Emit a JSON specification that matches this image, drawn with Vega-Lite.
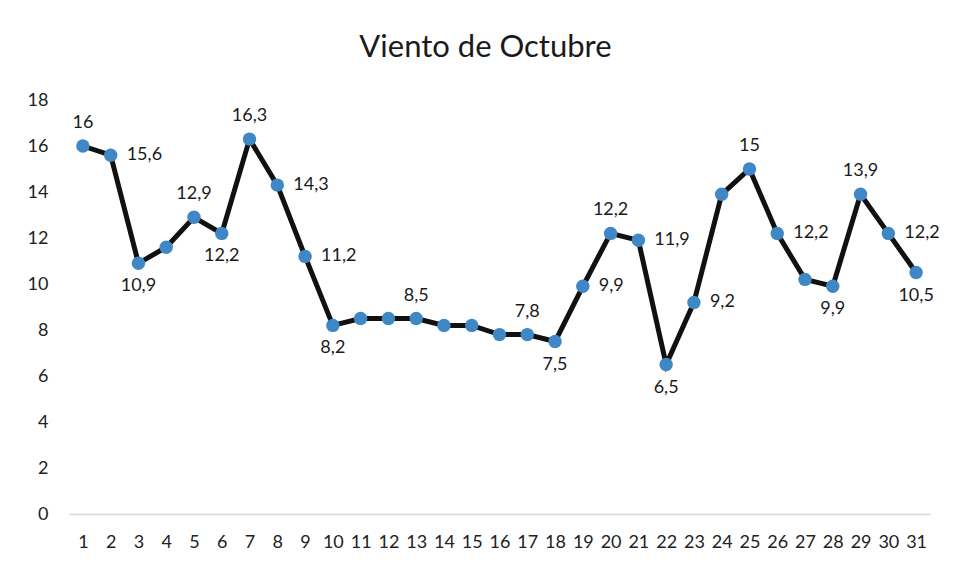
{
  "$schema": "https://vega.github.io/schema/vega-lite/v6.json",
  "width": 861,
  "height": 414,
  "autosize": {"type": "none"},
  "padding": {"left": 69, "top": 100, "right": 23, "bottom": 52},
  "background": "white",
  "config": {
    "view": {"stroke": null},
    "font": "Lato",
    "locale": {"number": {"decimal": ",", "thousands": ".", "grouping": [3], "currency": ["", " €"]}}
  },
  "title": {
    "text": "Viento de Octubre",
    "font": "Lato",
    "fontSize": 31,
    "fontWeight": "normal",
    "color": "#1a1a1a",
    "anchor": "middle",
    "dx": -14,
    "offset": 27
  },
  "data": {
    "values": [
      {"day": 1, "v": 16}, {"day": 2, "v": 15.6}, {"day": 3, "v": 10.9}, {"day": 4, "v": 11.6},
      {"day": 5, "v": 12.9}, {"day": 6, "v": 12.2}, {"day": 7, "v": 16.3}, {"day": 8, "v": 14.3},
      {"day": 9, "v": 11.2}, {"day": 10, "v": 8.2}, {"day": 11, "v": 8.5}, {"day": 12, "v": 8.5},
      {"day": 13, "v": 8.5}, {"day": 14, "v": 8.2}, {"day": 15, "v": 8.2}, {"day": 16, "v": 7.8},
      {"day": 17, "v": 7.8}, {"day": 18, "v": 7.5}, {"day": 19, "v": 9.9}, {"day": 20, "v": 12.2},
      {"day": 21, "v": 11.9}, {"day": 22, "v": 6.5}, {"day": 23, "v": 9.2}, {"day": 24, "v": 13.9},
      {"day": 25, "v": 15}, {"day": 26, "v": 12.2}, {"day": 27, "v": 10.2}, {"day": 28, "v": 9.9},
      {"day": 29, "v": 13.9}, {"day": 30, "v": 12.2}, {"day": 31, "v": 10.5}
    ]
  },
  "encoding": {
    "x": {
      "field": "day",
      "type": "ordinal",
      "scale": {"type": "point", "padding": 0.5},
      "axis": {
        "title": null,
        "labelAngle": 0,
        "ticks": false,
        "domainColor": "#d9d9d9",
        "domainWidth": 1.5,
        "labelFontSize": 18,
        "labelColor": "#222",
        "labelPadding": 19,
        "labelFont": "Lato"
      }
    },
    "y": {
      "field": "v",
      "type": "quantitative",
      "scale": {"domain": [0, 18], "nice": false},
      "axis": {
        "title": null,
        "values": [0, 2, 4, 6, 8, 10, 12, 14, 16, 18],
        "domain": false,
        "ticks": false,
        "grid": false,
        "labelFontSize": 18,
        "labelColor": "#222",
        "labelPadding": 21,
        "labelFont": "Lato"
      }
    }
  },
  "layer": [
    {"mark": {"type": "line", "color": "#111", "strokeWidth": 5}},
    {"mark": {"type": "circle", "color": "#3f88c5", "opacity": 1, "size": 180}},
    {
      "transform": [{"filter": {"field": "day", "oneOf": [1, 5, 7, 13, 17, 20, 25, 29]}}],
      "mark": {"type": "text", "dy": -23, "fontSize": 18, "color": "#1a1a1a", "font": "Lato"},
      "encoding": {"text": {"field": "v", "type": "quantitative", "format": "~g"}}
    },
    {
      "transform": [{"filter": {"field": "day", "oneOf": [3, 6, 10, 18, 22, 28, 31]}}],
      "mark": {"type": "text", "dy": 23, "fontSize": 18, "color": "#1a1a1a", "font": "Lato"},
      "encoding": {"text": {"field": "v", "type": "quantitative", "format": "~g"}}
    },
    {
      "transform": [{"filter": {"field": "day", "oneOf": [2, 8, 9, 19, 21, 23, 26, 30]}}],
      "mark": {"type": "text", "align": "left", "dx": 16, "fontSize": 18, "color": "#1a1a1a", "font": "Lato"},
      "encoding": {"text": {"field": "v", "type": "quantitative", "format": "~g"}}
    }
  ]
}
